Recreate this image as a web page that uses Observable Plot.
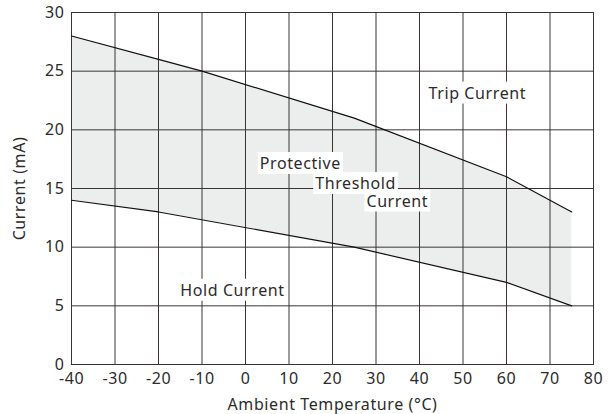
<!DOCTYPE html>
<html><head><meta charset="utf-8">
<script src="https://cdn.jsdelivr.net/npm/d3@7"></script>
<script src="https://cdn.jsdelivr.net/npm/@observablehq/plot@0.6"></script>
<style>body{margin:0;background:#fff;} svg{font-family:"Noto Sans",sans-serif;} svg text{letter-spacing:0.6px;}</style>
</head><body><div id="chart"></div>
<script>
const tempPoints = [-40, -20, -10, 25, 60, 75];
const tripCurrent = [28, 26, 25, 21, 16, 13];
const holdTemps = [-40, -20, 25, 60, 75];
const holdCurrent = [14, 13, 10, 7, 5];
const xTicks = [-40, -30, -20, -10, 0, 10, 20, 30, 40, 50, 60, 70, 80];
const yTicks = [0, 5, 10, 15, 20, 25, 30];
const labelText = ["Trip Current", "Protective", "Threshold", "Current", "Hold Current"];
const labelX = [53.3, 12.6, 25.3, 34.9, -3];
const labelY = [23.1, 17.1, 15.4, 13.9, 6.3];

const trip = tempPoints.map((t, i) => ({t, v: tripCurrent[i]}));
const hold = holdTemps.map((t, i) => ({t, v: holdCurrent[i]}));
const interp = (arr, t) => {
  for (let i = 0; i < arr.length - 1; i++) {
    if (t >= arr[i].t && t <= arr[i+1].t) {
      const f = (t - arr[i].t) / (arr[i+1].t - arr[i].t);
      return arr[i].v + f * (arr[i+1].v - arr[i].v);
    }
  }
  return arr[arr.length-1].v;
};
const allT = Array.from(new Set([...tempPoints, ...holdTemps])).sort((a,b)=>a-b);
const band = allT.map(t => ({t, y1: interp(hold, t), y2: interp(trip, t)}));
const labels = labelText.map((s, i) => ({s, x: labelX[i], y: labelY[i]}));
const ink = "#3a3434";

const chart = Plot.plot({
  width: 616, height: 414,
  marginLeft: 71, marginRight: 23, marginTop: 12, marginBottom: 50,
  style: {fontSize: "16px", color: "#2b2b2b", fontFamily: "'Noto Sans', sans-serif"},
  x: {domain: [-40, 80], ticks: xTicks, tickFormat: d => String(d), tickSize: 0, tickPadding: 8, label: "Ambient Temperature (°C)", labelAnchor: "center", labelArrow: "none", labelOffset: 45},
  y: {domain: [0, 30], ticks: yTicks, tickSize: 0, tickPadding: 7, label: "Current (mA)", labelAnchor: "center", labelArrow: "none", labelOffset: 58},
  marks: [
    Plot.areaY(band, {x: "t", y1: "y1", y2: "y2", fill: "#eceeed"}),
    Plot.gridX(xTicks, {stroke: ink, strokeOpacity: 1, strokeWidth: 1}),
    Plot.gridY(yTicks, {stroke: ink, strokeOpacity: 1, strokeWidth: 1}),
    Plot.frame({stroke: ink}),
    Plot.line(trip, {x: "t", y: "v", stroke: "#111", strokeWidth: 1.2}),
    Plot.line(hold, {x: "t", y: "v", stroke: "#111", strokeWidth: 1.2}),
    Plot.text(labels, {x: "x", y: "y", text: "s", fontSize: 16, fill: "#2b2b2b", className: "lbl"})
  ]
});
document.getElementById("chart").appendChild(chart);
chart.querySelectorAll("g[aria-label='x-axis tick label'], g[aria-label='y-axis tick label']").forEach(g => g.setAttribute("font-size", "16"));
chart.querySelectorAll("g[aria-label='x-axis label'], g[aria-label='y-axis label']").forEach(g => g.setAttribute("font-size", "16"));
chart.querySelectorAll(".lbl text").forEach(t => {
  const b = t.getBBox();
  const r = document.createElementNS("http://www.w3.org/2000/svg", "rect");
  r.setAttribute("x", b.x - 2); r.setAttribute("y", b.y);
  r.setAttribute("width", b.width + 4); r.setAttribute("height", b.height);
  r.setAttribute("fill", "white");
  const tr = t.getAttribute("transform");
  if (tr) r.setAttribute("transform", tr);
  t.parentNode.insertBefore(r, t);
});
</script></body></html>
